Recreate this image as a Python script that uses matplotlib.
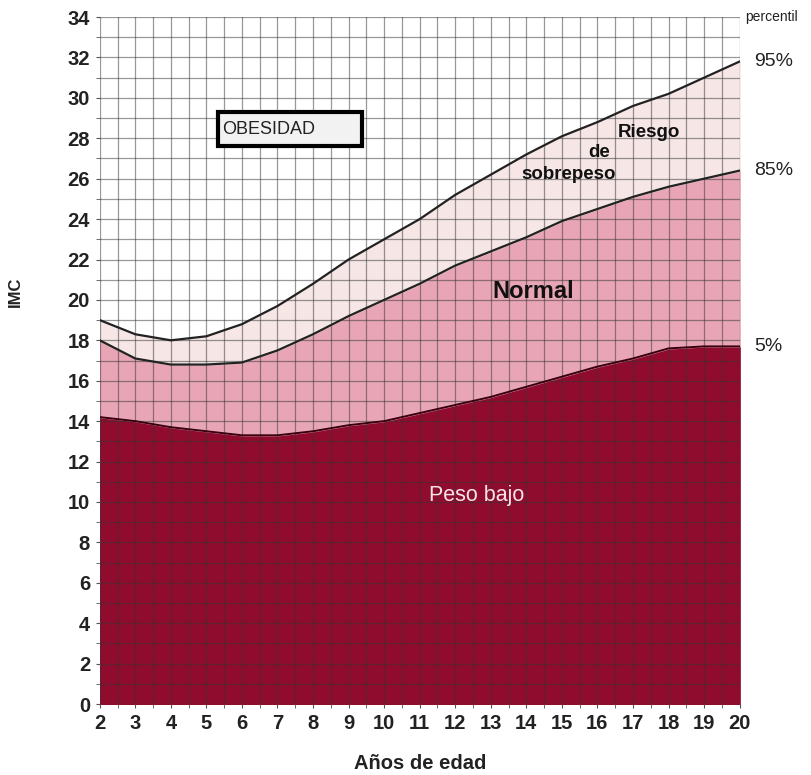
import numpy as np
import matplotlib
matplotlib.use("Agg")
import matplotlib.pyplot as plt
from matplotlib.patches import Rectangle

plt.rcParams['font.family'] = ['Liberation Sans', 'DejaVu Sans']

# edad (años) y percentiles de IMC
edad = [2, 3, 4, 5, 6, 7, 8, 9, 10, 11, 12, 13, 14, 15, 16, 17, 18, 19, 20]
p95 = [19.0, 18.3, 18.0, 18.2, 18.8, 19.7, 20.8, 22.0, 23.0, 24.0, 25.2,
       26.2, 27.2, 28.1, 28.8, 29.6, 30.2, 31.0, 31.8]
p85 = [18.0, 17.1, 16.8, 16.8, 16.9, 17.5, 18.3, 19.2, 20.0, 20.8, 21.7,
       22.4, 23.1, 23.9, 24.5, 25.1, 25.6, 26.0, 26.4]
p5 = [14.2, 14.0, 13.7, 13.5, 13.3, 13.3, 13.5, 13.8, 14.0, 14.4, 14.8,
      15.2, 15.7, 16.2, 16.7, 17.1, 17.6, 17.7, 17.7]

fig = plt.figure(figsize=(8.11, 7.75), dpi=100)
ax = fig.add_axes([0.123, 0.0916, 0.789, 0.8864])

# zonas
ax.fill_between(edad, 0, p5, color='#900c2e', zorder=1)
ax.fill_between(edad, p5, p85, color='#e8a5b5', zorder=1)
ax.fill_between(edad, p85, p95, color='#f6e6e6', zorder=1)

# curvas de percentiles
ax.plot(edad, p95, color='#222222', lw=1.6, zorder=4)
ax.plot(edad, p85, color='#222222', lw=1.6, zorder=4)
ax.plot(edad, p5, color='#3a0010', lw=1.4, zorder=4)

ax.set_xlim(2, 20)
ax.set_ylim(0, 34)
ax.set_xticks(np.arange(2, 21, 1))
ax.set_yticks(np.arange(0, 35, 2))
ax.set_xticks(np.arange(2, 20.5, 0.5), minor=True)
ax.set_yticks(np.arange(0, 35, 1), minor=True)
ax.grid(which='both', color='#333333', lw=0.9, alpha=0.5, zorder=3)
ax.set_axisbelow(False)
for s in ax.spines.values():
    s.set_visible(False)
ax.tick_params(which='both', length=3, color='#555555', labelsize=14.5, pad=4)
for lab in ax.get_xticklabels() + ax.get_yticklabels():
    lab.set_fontweight('bold')
    lab.set_color('#222222')

ax.set_xlabel('Años de edad', fontsize=14.5, fontweight='bold', color='#222222')
ax.set_ylabel('IMC', fontsize=12, fontweight='bold', color='#222222')
ax.xaxis.set_label_coords(0.5, -0.073)
ax.yaxis.set_label_coords(-0.12, 0.6)

# etiquetas de percentil
ax.text(20.15, 34.0, 'percentil', fontsize=10, color='#222222', va='center', clip_on=False)
ax.text(20.4, 31.8, '95%', fontsize=14, color='#222222', va='center', clip_on=False)
ax.text(20.4, 26.4, '85%', fontsize=14, color='#222222', va='center', clip_on=False)
ax.text(20.4, 17.7, '5%', fontsize=14, color='#222222', va='center', clip_on=False)

# textos de zonas
ax.add_patch(Rectangle((5.32, 27.6), 4.05, 1.7, fc='#f2f2f2', ec='black', lw=3, zorder=5))
ax.text(5.45, 28.45, 'OBESIDAD', fontsize=13, color='#222222', va='center', ha='left', zorder=6)
ax.text(17.45, 28.3, 'Riesgo', fontsize=13.5, fontweight='bold', color='#111111', ha='center', va='center', zorder=6)
ax.text(16.05, 27.3, 'de', fontsize=13.5, fontweight='bold', color='#111111', ha='center', va='center', zorder=6)
ax.text(15.2, 26.2, 'sobrepeso', fontsize=13.5, fontweight='bold', color='#111111', ha='center', va='center', zorder=6)
ax.text(14.2, 20.4, 'Normal', fontsize=17, fontweight='bold', color='#111111', ha='center', va='center', zorder=6)
ax.text(12.6, 10.3, 'Peso bajo', fontsize=15.5, color='#f4e4e8', ha='center', va='center', zorder=6)

fig.savefig('out.png', dpi=100)
